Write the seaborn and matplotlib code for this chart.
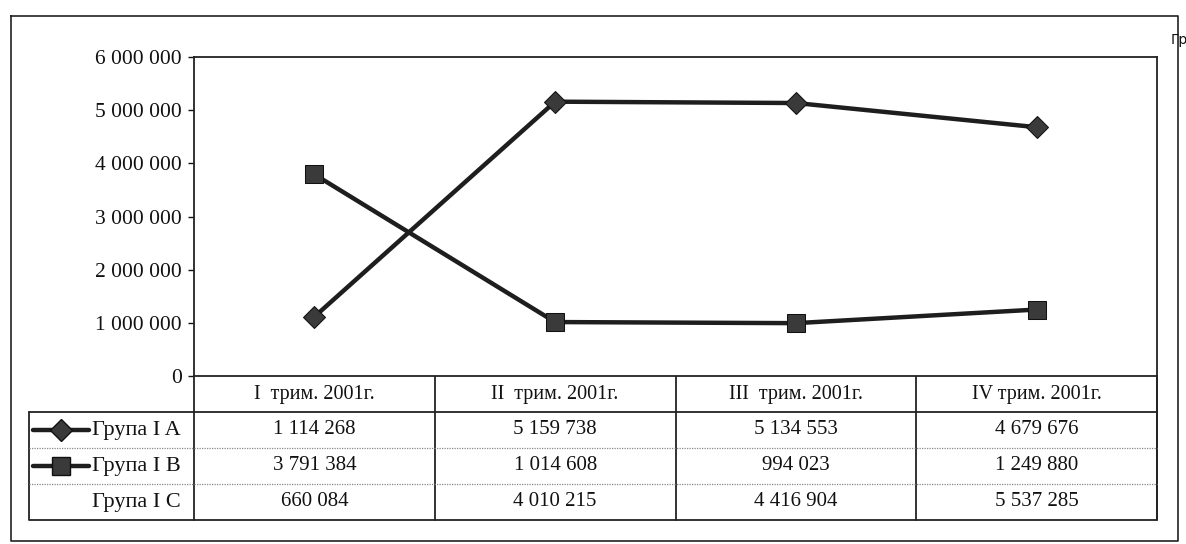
import numpy as np
import pandas as pd
import seaborn as sns
from matplotlib import pyplot as plt
from matplotlib.ticker import FuncFormatter

# Quarters and values per group
quarters = ["I  трим. 2001г.", "II  трим. 2001г.", "III  трим. 2001г.", "IV трим. 2001г."]
groups = ["Група I A", "Група I B", "Група I C"]
group_a = [1114268, 5159738, 5134553, 4679676]
group_b = [3791384, 1014608, 994023, 1249880]
group_c = [660084, 4010215, 4416904, 5537285]
y_ticks = [0, 1000000, 2000000, 3000000, 4000000, 5000000, 6000000]

# only A and B are drawn as lines, C is shown in the table
df_a = pd.DataFrame({"pos": range(4), "value": group_a})
df_b = pd.DataFrame({"pos": range(4), "value": group_b})

sns.set_style("white")
plt.rcParams["font.family"] = ["Liberation Serif", "DejaVu Serif"]

W, H = 1186, 544
fig = plt.figure(figsize=(W / 100, H / 100), dpi=100)

# plot area in pixel coords
left, right, top, bottom = 194, 1157, 57, 376
ax = fig.add_axes([left / W, 1 - bottom / H, (right - left) / W, (bottom - top) / H])

sns.lineplot(data=df_a, x="pos", y="value", color="#1e1e1e", marker="D",
             linewidth=3.2, markersize=11.5, markeredgecolor="#111111",
             markerfacecolor="#3a3a3a", ax=ax)
sns.lineplot(data=df_b, x="pos", y="value", color="#1e1e1e", marker="s",
             linewidth=3.2, markersize=13.5, markeredgecolor="#111111",
             markerfacecolor="#3a3a3a", ax=ax)

ax.set_xlim(-0.5, 3.5)
ax.set_ylim(0, 6000000)
ax.set_yticks(y_ticks)
ax.yaxis.set_major_formatter(FuncFormatter(lambda v, p: f"{int(v):,}".replace(",", " ")))
ax.set_xticks([])
ax.set_xlabel("")
ax.set_ylabel("")
ax.tick_params(axis="y", labelsize=15.5, length=4, width=1, direction="out", left=True, pad=5, colors="#111111")
for s in ax.spines.values():
    s.set_visible(True)
    s.set_color("#222222")
    s.set_linewidth(1.3)

# overlay for frame and data table
ov = fig.add_axes([0, 0, 1, 1], zorder=-1)
ov.set_xlim(0, W)
ov.set_ylim(H, 0)
ov.axis("off")

lc = "#222222"
# outer frame
ov.plot([11, 1178, 1178, 11, 11], [16, 16, 541, 541, 16], color=lc, lw=1.2, clip_on=False)

col_w = (right - left) / 4
rows = [bottom, 412, 448, 484, 520]
tab_left = 29

# header row box
ov.plot([left, right], [rows[1], rows[1]], color=lc, lw=1.3)
ov.plot([tab_left, tab_left, right, right], [rows[1], rows[4], rows[4], bottom], color=lc, lw=1.3)
ov.plot([tab_left, left], [rows[1], rows[1]], color=lc, lw=1.3)
for k in range(5):
    x = left + k * col_w
    ov.plot([x, x], [bottom, rows[4]], color=lc, lw=1.3)
for r in rows[2:4]:
    ov.plot([tab_left, right], [r, r], color="#888888", lw=0.9, ls=(0, (1, 1)))

for k, q in enumerate(quarters):
    ov.text(left + (k + 0.5) * col_w, (rows[0] + rows[1]) / 2, q, ha="center", va="center",
            fontsize=14.5, color="#111111")

table_vals = [group_a, group_b, group_c]
markers = ["D", "s", None]
for i, g in enumerate(groups):
    yc = (rows[i + 1] + rows[i + 2]) / 2
    ov.text(181, yc, g, ha="right", va="center", fontsize=16, color="#111111")
    if markers[i]:
        ov.plot([33, 89], [yc, yc], color="#1e1e1e", lw=3.2)
        ov.plot([61], [yc], marker=markers[i], markersize=13.5 if markers[i] == "s" else 11.5,
                markerfacecolor="#3a3a3a", markeredgecolor="#111111", ls="none")
    for k, v in enumerate(table_vals[i]):
        ov.text(left + (k + 0.5) * col_w, yc, f"{v:,}".replace(",", " "), ha="center", va="center",
                fontsize=15, color="#111111")

# clipped title fragment at the right edge
ov.text(1171, 40, "Гр", ha="left", va="center", fontsize=10, family="DejaVu Sans", color="#111111")

fig.savefig("out.png", dpi=100)
